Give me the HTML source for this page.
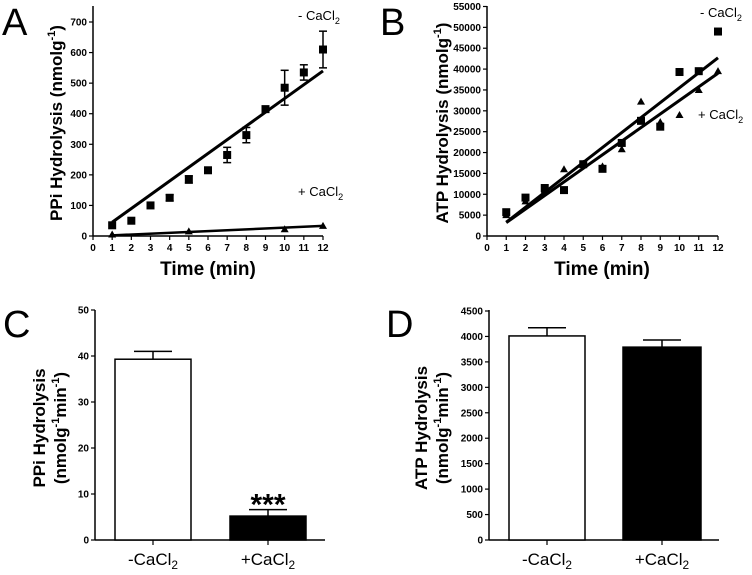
<!DOCTYPE html>
<html><head><meta charset="utf-8"><style>
body{margin:0;background:#fff}
svg{display:block;font-family:"Liberation Sans",sans-serif}
.tk{font-size:10px;font-weight:bold}
.ttl{font-weight:bold}
</style></head><body>
<svg id="fig" width="752" height="575" viewBox="0 0 752 575" xmlns="http://www.w3.org/2000/svg"></svg>
<script>
// Panel A data
const aTimes=[1,2,3,4,5,6,7,8,9,10,11,12];
const aMinus=[35,50,100,125,185,215,265,330,415,485,535,610];
const aMinusErr=[0,0,0,10,12,0,25,25,5,57,25,60];
const aPlusTimes=[1,5,10,12];
const aPlus=[5,15,22,33];
const aMinusFit=[45,540];
const aPlusFit=[2,33];
const aYTicks=[0,100,200,300,400,500,600,700];
const xTicks=[0,1,2,3,4,5,6,7,8,9,10,11,12];
// Panel B data
const bTimes=[1,2,3,4,5,6,7,8,9,10,11,12];
const bMinus=[5700,9200,11500,11000,17200,16100,22300,27600,26200,39300,39500,49000];
const bPlus=[5000,8300,11000,16000,17300,16700,20800,32200,27300,29000,35000,39500];
const bMinusFit=[3300,42700];
const bPlusFit=[3200,39000];
const bYTicks=[0,5000,10000,15000,20000,25000,30000,35000,40000,45000,50000,55000];
// Panel C data
const barCats=["-CaCl","+CaCl"];
const cVals=[39.3,5.2];
const cErr=[1.7,1.4];
const cYTicks=[0,10,20,30,40,50];
// Panel D data
const dVals=[4010,3790];
const dErr=[160,140];
const dYTicks=[0,500,1000,1500,2000,2500,3000,3500,4000,4500];

const NS="http://www.w3.org/2000/svg";
const svg=document.getElementById('fig');
function el(tag,attrs,parent,text){
  const e=document.createElementNS(NS,tag);
  for(const k in attrs)e.setAttribute(k,attrs[k]);
  if(text!==undefined)e.textContent=text;
  (parent||svg).appendChild(e);return e;
}
function lin(d0,d1,r0,r1){return v=>r0+(v-d0)*(r1-r0)/(d1-d0);}

function axes(g,x0,x1,y0,yTop,sy,yt){
  let a=el('line',{x1:x0,y1:y0,x2:x0,y2:yTop,stroke:'#000','stroke-width':1.5},g);
  
  
  a=el('line',{x1:x0,y1:y0,x2:x1,y2:y0,stroke:'#000','stroke-width':1.5},g);
  
  
  yt.forEach(v=>{
    el('line',{x1:x0-4,y1:sy(v),x2:x0,y2:sy(v),stroke:'#000','stroke-width':1.2},g);
    const t=el('text',{x:x0-6,y:sy(v)+3.5,'text-anchor':'end',class:'tk'},g,v);
    
    
  });
}
function square(g,x,y){const r=el('rect',{x:x-4,y:y-4,width:8,height:8,fill:'#000'},g);
  
  }
function tri(g,x,y){const p=el('polygon',{points:`${x},${y-4} ${x-4},${y+3} ${x+4},${y+3}`,fill:'#000'},g);
  
  }
function label(x,y,txt,name,size){const t=el('text',{x:x,y:y,'font-size':size},svg,txt);
  
  }
function caText(g,x,y,sign,name,size,anchor){
  const t=el('text',{x:x,y:y,'font-size':size,'text-anchor':anchor||'start'},g);
  
  
  el('tspan',{},t,sign+'CaCl');el('tspan',{'font-size':size*0.7,dy:4},t,'2');
}
function xTickRow(g,sx,y0){
  xTicks.forEach(v=>{
    el('line',{x1:sx(v),y1:y0,x2:sx(v),y2:y0+4,stroke:'#000','stroke-width':1.2},g);
    const t=el('text',{x:sx(v),y:y0+15,'text-anchor':'middle',class:'tk'},g,v);
    
    
  });
}
function yTitle(g,x,y,lines,size,gap){
  const t=el('text',{transform:`translate(${x},${y}) rotate(-90)`,'text-anchor':'middle',class:'ttl','font-size':size},g);
  
  
  lines.forEach((ln,i)=>{
    let shift=0;
    ln.forEach((p,j)=>{
      const at={};
      if(j===0){at.x=0;at.y=i*(gap||size*1.15);}
      if(typeof p==='string'){
        if(shift){at.dy=shift;shift=0;}
        el('tspan',at,t,p);
      } else {
        at['font-size']=size*0.65;at.dy=-size*0.4;
        el('tspan',at,t,p.sup);shift=size*0.4;
      }
    });
  });
}

// ---------- Panel A
(function(){
  const g=el('g',{});
  
  
  const sx=lin(0,12,93,323), sy=lin(0,700,236,22);
  axes(g,93,323,236,6,sy,aYTicks);xTickRow(g,sx,236);
  const ft=el('line',{x1:sx(1),y1:sy(aMinusFit[0]),x2:sx(12),y2:sy(aMinusFit[1]),stroke:'#000','stroke-width':3},g);
  
  
  const fp=el('line',{x1:sx(1),y1:sy(aPlusFit[0]),x2:sx(12),y2:sy(aPlusFit[1]),stroke:'#000','stroke-width':2.5},g);
  
  
  aTimes.forEach((t,i)=>{
    const e=aMinusErr[i];
    if(e>0){const x=sx(t);
      el('line',{x1:x,y1:sy(aMinus[i]-e),x2:x,y2:sy(aMinus[i]+e),stroke:'#000','stroke-width':1.5},g);
      el('line',{x1:x-4,y1:sy(aMinus[i]+e),x2:x+4,y2:sy(aMinus[i]+e),stroke:'#000','stroke-width':1.5},g);
      el('line',{x1:x-4,y1:sy(aMinus[i]-e),x2:x+4,y2:sy(aMinus[i]-e),stroke:'#000','stroke-width':1.5},g);}
    square(g,sx(t),sy(aMinus[i]));
  });
  aPlusTimes.forEach((t,i)=>tri(g,sx(t),sy(aPlus[i])));
  caText(g,298,20,'- ','label-minus-cacl2',13);
  caText(g,298,196,'+ ','label-plus-cacl2',13);
  yTitle(g,62,123,[['PPi Hydrolysis (nmolg',{sup:'-1'},')']],17);
  const xt=el('text',{x:208,y:275,'text-anchor':'middle',class:'ttl','font-size':19},g,'Time (min)');
  
  
  label(2,35,'A','panel-label-a',38);
})();

// ---------- Panel B
(function(){
  const g=el('g',{});
  
  
  const sx=lin(0,12,487,718), sy=lin(0,55000,236,6.5);
  axes(g,487,718,236,6,sy,bYTicks);xTickRow(g,sx,236);
  const l1=el('line',{x1:sx(1),y1:sy(bMinusFit[0]),x2:sx(12),y2:sy(bMinusFit[1]),stroke:'#000','stroke-width':3},g);
  
  
  const l2=el('line',{x1:sx(1),y1:sy(bPlusFit[0]),x2:sx(12),y2:sy(bPlusFit[1]),stroke:'#000','stroke-width':3},g);
  
  
  bTimes.forEach((t,i)=>{square(g,sx(t),sy(bMinus[i]));tri(g,sx(t),sy(bPlus[i]));});
  caText(g,700,17,'- ','label-minus-cacl2',13);
  caText(g,698,119,'+ ','label-plus-cacl2',13);
  yTitle(g,448,123,[['ATP Hydrolysis (nmolg',{sup:'-1'},')']],17);
  const xt=el('text',{x:602,y:275,'text-anchor':'middle',class:'ttl','font-size':19},g,'Time (min)');
  
  
  label(380,35,'B','panel-label-b',38);
})();

// ---------- Bars
function barPanel(name,ax,axEnd,sy,yt,vals,errs,bars){
  const g=el('g',{});
  
  
  axes(g,ax,axEnd,540,310,sy,yt);
  vals.forEach((v,i)=>{
    const bx0=bars[i][0], bx1=bars[i][1], cx=(bx0+bx1)/2;
    const top=sy(v+errs[i]);
    el('line',{x1:cx,y1:sy(v),x2:cx,y2:top,stroke:'#000','stroke-width':1.5},g);
    el('line',{x1:cx-19,y1:top,x2:cx+19,y2:top,stroke:'#000','stroke-width':1.5},g);
    const r=el('rect',{x:bx0,y:sy(v),width:bx1-bx0,height:540-sy(v),fill:i?'#000':'#fff',stroke:'#000','stroke-width':1.5},g);
    
    
    el('line',{x1:cx,y1:540,x2:cx,y2:545,stroke:'#000','stroke-width':1.2},g);
    caText(g,cx,565,barCats[i][0],'x-category-label',17,'middle');
  });
  return g;
}
(function(){
  const sy=lin(0,50,540,310);
  const g=barPanel('panel-c',95,325,sy,cYTicks,cVals,cErr,[[115,191],[230,306]]);
  const st=el('text',{x:268,y:sy(cVals[1]+cErr[1])+5,'text-anchor':'middle','font-size':30,'font-weight':'bold'},g,'***');
  
  
  yTitle(g,45,428,[['PPi Hydrolysis'],['(nmolg',{sup:'-1'},'min',{sup:'-1'},')']],17,21);
  label(3,337,'C','panel-label-c',38);
})();
(function(){
  const sy=lin(0,4500,540,311);
  const g=barPanel('panel-d',489,719,sy,dYTicks,dVals,dErr,[[509,585],[623,701]]);
  yTitle(g,427,428,[['ATP Hydrolysis'],['(nmolg',{sup:'-1'},'min',{sup:'-1'},')']],17,21);
  label(386,337,'D','panel-label-d',38);
})();
</script>
</body></html>
